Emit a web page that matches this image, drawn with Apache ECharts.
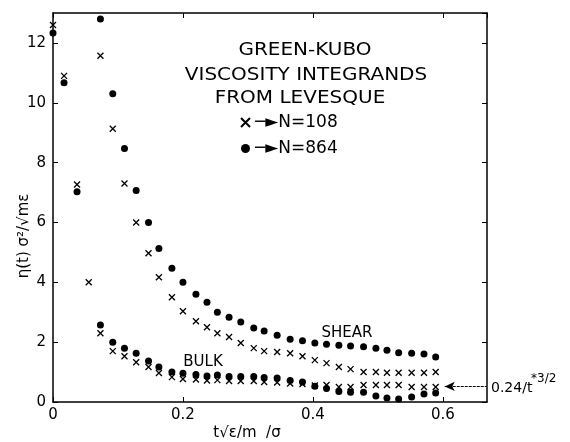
<!DOCTYPE html>
<html>
<head>
<meta charset="utf-8">
<script src="https://cdn.jsdelivr.net/npm/echarts@6/dist/echarts.min.js"></script>
<style>html,body{margin:0;padding:0;background:#fff;}#c{width:570px;height:442px;}</style>
</head>
<body>
<div id="c"></div>
<script>
// time values (reduced units)
const t = [0, 0.017, 0.037, 0.055, 0.073, 0.092, 0.110, 0.128, 0.147, 0.163, 0.183, 0.200, 0.220, 0.237, 0.253, 0.271, 0.289, 0.309, 0.325, 0.345, 0.365, 0.384, 0.403, 0.421, 0.440, 0.458, 0.478, 0.497, 0.514, 0.532, 0.552, 0.571, 0.589];
// shear integrand, N=864 (dots)
const shear864 = [12.33, 10.67, 7.03, null, 12.8, 10.3, 8.47, 7.07, 6.0, 5.13, 4.47, 4.0, 3.6, 3.33, 3.0, 2.83, 2.67, 2.47, 2.37, 2.23, 2.1, 2.05, 1.97, 1.93, 1.9, 1.87, 1.85, 1.8, 1.73, 1.65, 1.63, 1.6, 1.5];
// shear integrand, N=108 (crosses)
const shear108 = [12.6, 10.9, 7.27, 4.0, 11.57, 9.13, 7.3, 6.0, 4.97, 4.17, 3.5, 3.03, 2.7, 2.5, 2.3, 2.17, 1.97, 1.8, 1.7, 1.67, 1.63, 1.53, 1.4, 1.3, 1.17, 1.1, 1.0, 1.0, 0.98, 0.98, 0.98, 0.98, 1.0];
// bulk integrand, N=864 (dots)
const bulk864 = [null, null, null, null, 2.57, 2.0, 1.8, 1.63, 1.37, 1.17, 1.0, 0.96, 0.92, 0.87, 0.9, 0.85, 0.85, 0.85, 0.82, 0.8, 0.72, 0.67, 0.53, 0.45, 0.35, 0.33, 0.33, 0.2, 0.13, 0.1, 0.17, 0.27, 0.3];
// bulk integrand, N=108 (crosses)
const bulk108 = [null, null, null, null, 2.3, 1.7, 1.53, 1.33, 1.17, 0.97, 0.83, 0.77, 0.75, 0.72, 0.73, 0.7, 0.7, 0.7, 0.67, 0.65, 0.62, 0.6, 0.55, 0.57, 0.5, 0.5, 0.57, 0.57, 0.57, 0.57, 0.5, 0.5, 0.5];
// asymptote marker 0.24/t^(3/2)
const tailArrow = [[0.603, 0.52], [0.668, 0.52]];
const xTicks = [0, 0.2, 0.4, 0.6];
const yTicks = [0, 2, 4, 6, 8, 10, 12];

const FONT = 'DejaVu Sans';
const pairs = arr => t.map((x, i) => [x, arr[i]]).filter(p => p[1] != null);
const crossPath = 'path://M0,0L10,10M10,0L0,10';

const chart = echarts.init(document.getElementById('c'), null, {renderer: 'canvas'});

const axisCommon = {
  type: 'value',
  axisLine: {show: true, onZero: false, lineStyle: {color: '#000', width: 1.5}},
  axisTick: {show: true, inside: true, length: 5, lineStyle: {color: '#000', width: 1}},
  splitLine: {show: false}
};

const crossStyle = {color: 'rgba(0,0,0,0)', borderColor: '#000', borderWidth: 1.3, opacity: 1};
const dotStyle = {color: '#000', opacity: 1};

chart.setOption({
  backgroundColor: '#fff',
  animation: false,
  textStyle: {fontFamily: FONT, color: '#000'},
  grid: {left: 53, right: 83, top: 13, bottom: 40},
  legend: {
    orient: 'vertical',
    left: 240, top: 114, padding: 0,
    itemWidth: 9, itemHeight: 9, itemGap: 9, itemTextGap: 2,
    data: ['N=108', 'N=864'],
    formatter: name => '─►' + name,
    textStyle: {fontFamily: FONT, fontSize: 17, color: '#000'}
  },
  xAxis: [
    Object.assign({}, axisCommon, {
      min: 0, max: 0.668, interval: 0.2, position: 'bottom',
      axisLabel: {show: true, margin: 6, fontSize: 15, color: '#000', fontFamily: FONT, showMaxLabel: false,
        formatter: v => xTicks.some(k => Math.abs(k - v) < 1e-6) ? String(+v.toFixed(1)) : ''}
    }),
    Object.assign({}, axisCommon, {
      min: 0, max: 0.668, interval: 0.2, position: 'top', axisLabel: {show: false}
    })
  ],
  yAxis: [
    Object.assign({}, axisCommon, {
      min: 0, max: 13, interval: 2, position: 'left',
      axisLabel: {show: true, margin: 7, fontSize: 15, color: '#000', fontFamily: FONT, showMaxLabel: false,
        formatter: v => yTicks.indexOf(v) >= 0 ? String(v) : ''}
    }),
    Object.assign({}, axisCommon, {
      min: 0, max: 13, interval: 2, position: 'right', axisLabel: {show: false}
    })
  ],
  series: [
    {name: 'N=108', type: 'scatter', data: pairs(shear108), symbol: crossPath, symbolSize: 6, itemStyle: crossStyle},
    {name: 'N=864', type: 'scatter', data: pairs(shear864), symbol: 'circle', symbolSize: 7, itemStyle: dotStyle},
    {name: 'N=108', type: 'scatter', data: pairs(bulk108), symbol: crossPath, symbolSize: 6, itemStyle: crossStyle},
    {name: 'N=864', type: 'scatter', data: pairs(bulk864), symbol: 'circle', symbolSize: 7, itemStyle: dotStyle,
      markLine: {
        silent: true, symbol: ['arrow', 'none'], symbolSize: [7, 10],
        label: {show: false},
        lineStyle: {color: '#000', width: 1, type: [3, 1], opacity: 1},
        data: [[{coord: tailArrow[0]}, {coord: tailArrow[1]}]]
      }
    }
  ],
  graphic: [
    {type: 'text', x: 305, y: 51, scaleY: 0.85, style: {text: 'GREEN-KUBO', font: '20px "DejaVu Sans"', fill: '#000', textAlign: 'center', textVerticalAlign: 'middle'}},
    {type: 'text', x: 306, y: 76, scaleY: 0.85, style: {text: 'VISCOSITY INTEGRANDS', font: '20px "DejaVu Sans"', fill: '#000', textAlign: 'center', textVerticalAlign: 'middle'}},
    {type: 'text', x: 300, y: 99, scaleY: 0.85, style: {text: 'FROM LEVESQUE', font: '20px "DejaVu Sans"', fill: '#000', textAlign: 'center', textVerticalAlign: 'middle'}},
    {type: 'text', x: 347, y: 333, style: {text: 'SHEAR', font: '15px "DejaVu Sans"', fill: '#000', textAlign: 'center', textVerticalAlign: 'middle'}},
    {type: 'text', x: 203, y: 362, style: {text: 'BULK', font: '15px "DejaVu Sans"', fill: '#000', textAlign: 'center', textVerticalAlign: 'middle'}},
    {type: 'text', x: 491, y: 388, style: {text: '0.24/t', font: '14px "DejaVu Sans"', fill: '#000', textAlign: 'left', textVerticalAlign: 'middle'}},
    {type: 'text', x: 531, y: 379, style: {text: '*3/2', font: '12px "DejaVu Sans"', fill: '#000', textAlign: 'left', textVerticalAlign: 'middle'}},
    {type: 'text', x: 24, y: 236, rotation: Math.PI / 2, style: {text: 'η(t) σ²/√mε', font: '15px "DejaVu Sans"', fill: '#000', textAlign: 'center', textVerticalAlign: 'middle'}},
    {type: 'text', x: 247, y: 433, style: {text: 't√ε/m  /σ', font: '15px "DejaVu Sans"', fill: '#000', textAlign: 'center', textVerticalAlign: 'middle'}}
  ]
});
</script>
</body>
</html>
